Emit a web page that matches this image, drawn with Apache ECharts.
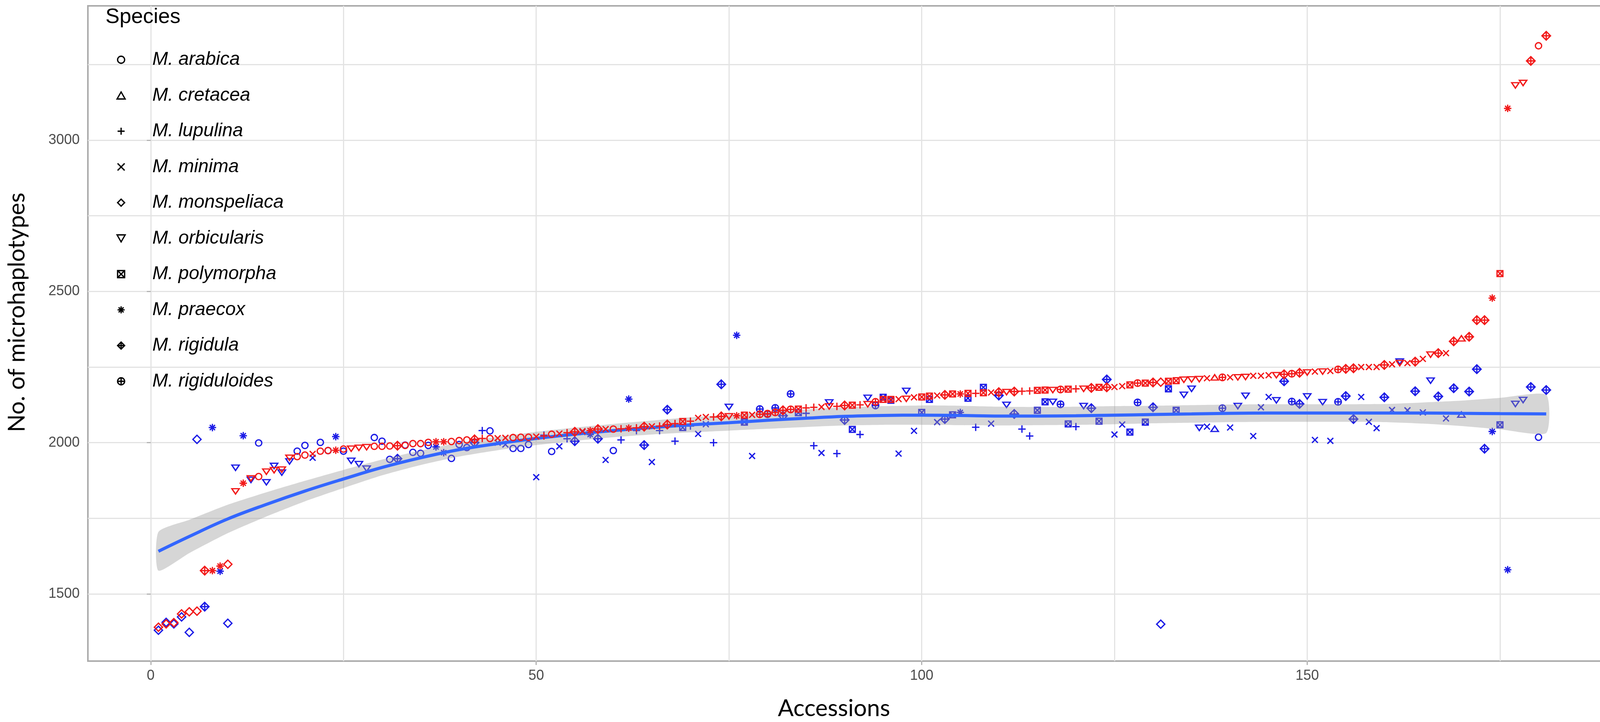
<!DOCTYPE html>
<html>
<head>
    <meta charset="UTF-8">
    <title>Microhaplotypes per accession</title>
    <script type="text/javascript" src="https://cdn.jsdelivr.net/npm/echarts@6/dist/echarts.min.js"></script>
</head>
<body style="margin: 0;overflow: hidden;background: #fff">
<div id="chart" style="width: 4152px;height: 1849px"></div>
<script type="text/javascript">
    // species, in legend order
    var speciesNames = ['M. arabica', 'M. cretacea', 'M. lupulina', 'M. minima', 'M. monspeliaca',
        'M. orbicularis', 'M. polymorpha', 'M. praecox', 'M. rigidula', 'M. rigiduloides'];
    var speciesCodes = ['ara', 'cre', 'lup', 'min', 'mon', 'orb', 'pol', 'pra', 'rig', 'rid'];

    // species of each accession, accession 1..181
    var accessionSpecies = [
        'mon', 'mon', 'mon', 'mon', 'mon', 'mon', 'rig', 'pra', 'pra', 'mon',
        'orb', 'pra', 'orb', 'ara', 'orb', 'orb', 'orb', 'orb', 'ara', 'ara',
        'min', 'ara', 'ara', 'pra', 'ara', 'orb', 'orb', 'orb', 'ara', 'ara',
        'ara', 'rig', 'ara', 'ara', 'ara', 'ara', 'pra', 'pra', 'ara', 'ara',
        'ara', 'rig', 'lup', 'ara', 'min', 'min', 'ara', 'ara', 'ara', 'min',
        'lup', 'ara', 'min', 'lup', 'rig', 'min', 'pra', 'rig', 'min', 'ara',
        'lup', 'pra', 'lup', 'rig', 'min', 'lup', 'rig', 'lup', 'pol', 'lup',
        'min', 'min', 'lup', 'rig', 'orb', 'pra', 'pol', 'min', 'rid', 'rid',
        'rid', 'rig', 'rid', 'pol', 'lup', 'lup', 'min', 'orb', 'lup', 'rig',
        'pol', 'lup', 'orb', 'rid', 'pol', 'pol', 'min', 'orb', 'min', 'pol',
        'pol', 'min', 'rig', 'pol', 'pra', 'pol', 'lup', 'pol', 'min', 'rig',
        'orb', 'rig', 'lup', 'lup', 'pol', 'pol', 'orb', 'rid', 'pol', 'lup',
        'orb', 'rig', 'pol', 'rig', 'min', 'min', 'pol', 'rid', 'pol', 'rig',
        'mon', 'pol', 'pol', 'orb', 'orb', 'orb', 'min', 'cre', 'rid', 'min',
        'orb', 'orb', 'min', 'min', 'min', 'orb', 'rig', 'rid', 'rig', 'orb',
        'min', 'orb', 'min', 'rid', 'rig', 'rig', 'min', 'min', 'min', 'rig',
        'min', 'orb', 'min', 'rig', 'min', 'orb', 'rig', 'min', 'rig', 'cre',
        'rig', 'rig', 'rig', 'pra', 'pol', 'pra', 'orb', 'orb', 'rig', 'ara',
        'rig'
    ];

    // red points (sorted counts)
    var redCounts = [
        1390, 1401, 1405, 1434, 1441, 1443, 1577, 1577, 1592, 1598,
        1839, 1866, 1882, 1888, 1904, 1909, 1911, 1950, 1954, 1959,
        1963, 1972, 1974, 1975, 1979, 1980, 1983, 1985, 1988, 1988,
        1989, 1990, 1991, 1997, 1997, 2001, 2003, 2003, 2004, 2007,
        2009, 2011, 2014, 2014, 2015, 2016, 2017, 2018, 2018, 2020,
        2022, 2028, 2030, 2033, 2036, 2038, 2040, 2045, 2045, 2045,
        2046, 2048, 2049, 2053, 2054, 2055, 2060, 2063, 2070, 2071,
        2082, 2085, 2085, 2087, 2087, 2089, 2091, 2092, 2094, 2096,
        2100, 2107, 2110, 2111, 2115, 2117, 2118, 2120, 2120, 2123,
        2124, 2125, 2127, 2135, 2143, 2143, 2144, 2145, 2150, 2151,
        2154, 2156, 2158, 2161, 2161, 2163, 2163, 2165, 2166, 2167,
        2167, 2169, 2170, 2171, 2173, 2174, 2174, 2176, 2177, 2178,
        2178, 2181, 2183, 2183, 2184, 2187, 2191, 2197, 2197, 2199,
        2200, 2203, 2205, 2208, 2209, 2210, 2213, 2216, 2216, 2216,
        2216, 2217, 2221, 2221, 2223, 2223, 2226, 2228, 2231, 2232,
        2235, 2235, 2237, 2242, 2244, 2246, 2250, 2250, 2250, 2257,
        2259, 2263, 2263, 2268, 2277, 2291, 2296, 2296, 2335, 2345,
        2350, 2405, 2405, 2478, 2559, 3105, 3181, 3189, 3262, 3312,
        3345
    ];

    // blue points
    var blueCounts = [
        1380, 1406, 1401, 1424, 1373, 2011, 1458, 2050, 1575, 1403,
        1917, 2023, 1877, 1999, 1869, 1923, 1901, 1938, 1972, 1991,
        1950, 2001, 1974, 2020, 1972, 1940, 1929, 1914, 2017, 2005,
        1945, 1947, 1992, 1968, 1965, 1991, 1986, 1967, 1948, 1994,
        1984, 2000, 2040, 2039, 2000, 1994, 1981, 1981, 1994, 1886,
        2025, 1971, 1988, 2013, 2005, 2035, 2027, 2013, 1943, 1974,
        2009, 2144, 2040, 1992, 1936, 2040, 2109, 2005, 2050, 2055,
        2029, 2061, 2000, 2193, 2118, 2355, 2068, 1956, 2111, 2094,
        2115, 2089, 2161, 2099, 2097, 1990, 1966, 2133, 1964, 2075,
        2044, 2027, 2148, 2123, 2150, 2140, 1964, 2171, 2039, 2100,
        2143, 2068, 2078, 2092, 2100, 2147, 2051, 2183, 2063, 2156,
        2125, 2095, 2045, 2022, 2107, 2135, 2135, 2127, 2062, 2053,
        2121, 2114, 2071, 2209, 2027, 2060, 2035, 2133, 2068, 2117,
        1400, 2178, 2107, 2158, 2178, 2049, 2053, 2046, 2114, 2050,
        2121, 2155, 2022, 2117, 2151, 2140, 2203, 2136, 2128, 2153,
        2009, 2134, 2006, 2135, 2154, 2078, 2151, 2069, 2048, 2150,
        2108, 2268, 2107, 2170, 2100, 2205, 2153, 2080, 2180, 2093,
        2169, 2243, 1980, 2037, 2059, 1580, 2128, 2141, 2184, 2018,
        2174
    ];

    // loess fit of the blue points and its confidence band
    var smoothX = [1, 5, 10, 15, 20, 25, 30, 35, 40, 45, 50, 55, 60, 65, 70, 75, 80, 85, 90,
        95, 100, 105, 110, 115, 120, 125, 130, 135, 140, 145, 150, 155, 160, 165, 170, 175, 181];
    var smoothFit = [1641, 1690, 1748, 1796, 1840, 1880, 1918, 1950, 1977, 1997, 2014, 2028, 2040,
        2050, 2059, 2066, 2074, 2081, 2087, 2090, 2091, 2090, 2088, 2088, 2089, 2091, 2093, 2095,
        2097, 2098, 2098, 2098, 2098, 2098, 2097, 2096, 2095];
    var smoothLo = [1577, 1635, 1701, 1756, 1806, 1850, 1892, 1926, 1954, 1975, 1992, 2006, 2018,
        2027, 2034, 2040, 2046, 2052, 2057, 2059, 2059, 2058, 2057, 2058, 2059, 2061, 2064, 2066,
        2068, 2069, 2069, 2069, 2068, 2063, 2055, 2044, 2032];
    var smoothHi = [1705, 1745, 1795, 1836, 1874, 1910, 1944, 1974, 2000, 2019, 2036, 2050, 2062,
        2073, 2084, 2092, 2102, 2110, 2117, 2121, 2123, 2122, 2119, 2118, 2119, 2121, 2122, 2124,
        2126, 2127, 2127, 2127, 2128, 2133, 2139, 2148, 2158];

    var xTicks = [0, 50, 100, 150];
    var xMinorTicks = [25, 75, 125, 175];
    var yTicks = [1500, 2000, 2500, 3000];
    var yMinorTicks = [1750, 2250, 2750, 3250];

    var RED = '#f21a1a';
    var BLUE = '#1c1ce6';

    // pch-like shapes
    var shapes = {
        ara: {symbol: 'path://M0,6A6,6,0,1,1,12,6A6,6,0,1,1,0,6Z', size: 16},
        cre: {symbol: 'path://M6,0L12,10.4L0,10.4Z', size: [19, 16]},
        lup: {symbol: 'path://M0,6L12,6M6,0L6,12', size: 19},
        min: {symbol: 'path://M0,0L10,10M10,0L0,10', size: 15},
        mon: {symbol: 'path://M6,0L12,6L6,12L0,6Z', size: 21},
        orb: {symbol: 'path://M0,0L12,0L6,10.4Z', size: [19, 16]},
        pol: {symbol: 'path://M0,0L10,0L10,10L0,10ZM0,0L10,10M10,0L0,10', size: 15},
        pra: {symbol: 'path://M0,6L12,6M6,0L6,12M1.8,1.8L10.2,10.2M10.2,1.8L1.8,10.2', size: 19},
        rig: {symbol: 'path://M6,0L12,6L6,12L0,6ZM6,0L6,12M0,6L12,6', size: 22},
        rid: {symbol: 'path://M0,6A6,6,0,1,1,12,6A6,6,0,1,1,0,6ZM6,0L6,12M0,6L12,6', size: 17}
    };

    function pointsOf(values, code) {
        var out = [];
        for (var i = 0; i < values.length; i++) {
            if (accessionSpecies[i] === code) {
                out.push([i + 1, values[i]]);
            }
        }
        return out;
    }

    function scatterSeries(values, color, z) {
        var list = [];
        for (var k = 0; k < speciesCodes.length; k++) {
            var code = speciesCodes[k];
            list.push({
                name: speciesNames[k],
                type: 'scatter',
                data: pointsOf(values, code),
                symbol: shapes[code].symbol,
                symbolSize: shapes[code].size,
                symbolKeepAspect: true,
                itemStyle: {color: 'rgba(0,0,0,0)', borderColor: color, borderWidth: 3.3, opacity: 1},
                silent: true,
                z: z
            });
        }
        return list;
    }

    var series = [].concat(scatterSeries(blueCounts, BLUE, 2));
    series.push({
        type: 'custom',
        silent: true,
        z: 3,
        data: [[smoothX[0], smoothFit[0]]],
        renderItem: function (params, api) {
            var pts = [];
            for (var i = 0; i < smoothX.length; i++) {
                pts.push(api.coord([smoothX[i], smoothHi[i]]));
            }
            for (var j = smoothX.length - 1; j >= 0; j--) {
                pts.push(api.coord([smoothX[j], smoothLo[j]]));
            }
            return {
                type: 'polygon',
                shape: {points: pts, smooth: 0.2},
                style: {fill: 'rgba(153,153,153,0.4)'}
            };
        }
    });
    series.push({
        type: 'line',
        silent: true,
        z: 4,
        data: smoothX.map(function (x, i) {
            return [x, smoothFit[i]];
        }),
        smooth: 0.4,
        symbol: 'none',
        lineStyle: {color: '#3366ff', width: 8}
    });
    series = series.concat(scatterSeries(redCounts, RED, 5));

    var labelStyle = {fontFamily: 'Liberation Sans', fontSize: 36, color: '#4d4d4d',
        formatter: function (v) { return String(v); }};
    var tickStyle = {color: '#b3b3b3', width: 3};
    var gridLine = {color: '#e3e3e3', width: 3};

    var chart = echarts.init(document.getElementById('chart'));
    chart.setOption({
        animation: false,
        backgroundColor: '#fff',
        title: {
            text: 'Species',
            left: 265,
            top: 12,
            textStyle: {fontFamily: 'Liberation Sans', fontSize: 54, fontWeight: 'normal', color: '#000'}
        },
        legend: {
            orient: 'vertical',
            left: 293,
            top: 124,
            itemWidth: 150,
            itemHeight: 18,
            itemGap: 43.5,
            selectedMode: false,
            data: speciesNames.map(function (n, k) {
                return {name: n, icon: shapes[speciesCodes[k]].symbol};
            }),
            itemStyle: {color: 'rgba(0,0,0,0)', borderColor: '#000', borderWidth: 3.3},
            textStyle: {fontFamily: 'Liberation Sans', fontStyle: 'italic', fontSize: 48,
                lineHeight: 44, color: '#000'}
        },
        grid: {
            left: 225, right: 18, top: 15, bottom: 156,
            show: true, borderColor: '#ababab', borderWidth: 4, backgroundColor: '#fff'
        },
        xAxis: [{
            type: 'value', min: -8.15, max: 189.9,
            axisLine: {show: false},
            axisTick: {show: true, customValues: xTicks, length: 10, lineStyle: tickStyle},
            axisLabel: Object.assign({customValues: xTicks, margin: 20}, labelStyle),
            splitLine: {show: true, lineStyle: gridLine}
        }, {
            type: 'value', min: -8.15, max: 189.9, position: 'top',
            axisLine: {show: false},
            axisTick: {show: false, customValues: xMinorTicks},
            axisLabel: {show: false, customValues: xMinorTicks},
            splitLine: {show: true, lineStyle: gridLine}
        }],
        yAxis: [{
            type: 'value', min: 1278, max: 3444,
            axisLine: {show: false},
            axisTick: {show: true, customValues: yTicks, length: 10, lineStyle: tickStyle},
            axisLabel: Object.assign({customValues: yTicks, margin: 21}, labelStyle),
            splitLine: {show: true, lineStyle: gridLine}
        }, {
            type: 'value', min: 1278, max: 3444, position: 'right',
            axisLine: {show: false},
            axisTick: {show: false, customValues: yMinorTicks},
            axisLabel: {show: false, customValues: yMinorTicks},
            splitLine: {show: true, lineStyle: gridLine}
        }],
        graphic: [{
            type: 'text',
            x: 2135,
            y: 1815,
            style: {text: 'Accessions', fontFamily: 'Lato', fontSize: 60, fill: '#000',
                align: 'center', verticalAlign: 'middle'}
        }, {
            type: 'text',
            x: 44,
            y: 800,
            rotation: Math.PI / 2,
            style: {text: 'No. of microhaplotypes', fontFamily: 'Lato', fontSize: 60, fill: '#000',
                align: 'center', verticalAlign: 'middle'}
        }],
        series: series
    });
</script>
</body>
</html>
